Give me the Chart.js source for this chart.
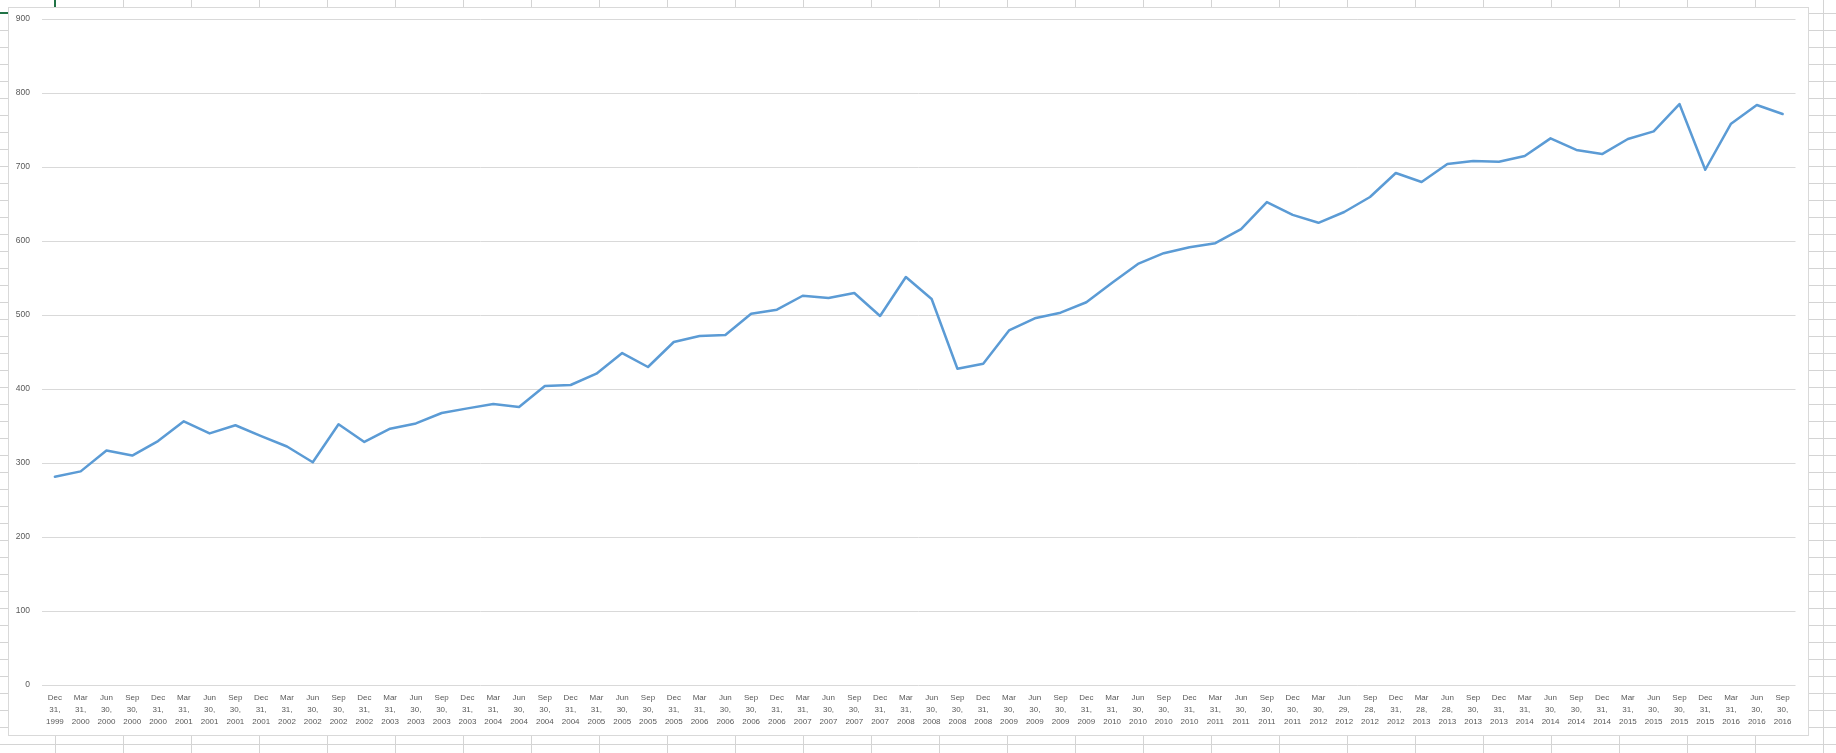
<!DOCTYPE html>
<html>
<head>
<meta charset="utf-8">
<script src="https://cdn.jsdelivr.net/npm/chart.js@4.4.1/dist/chart.umd.min.js"></script>
<style>
  html, body { margin: 0; padding: 0; }
  body {
    width: 1836px; height: 753px; overflow: hidden; position: relative;
    background-color: #ffffff;
    background-image:
      linear-gradient(to right, #d4d4d4 1px, transparent 1px),
      linear-gradient(to bottom, #d4d4d4 1px, transparent 1px);
    background-size: 68px 100%, 100% 17px;
    background-position: 55px 0, 0 13px;
  }
  #sel {
    position: absolute; left: -20px; top: -10px; width: 76px; height: 24px;
    box-sizing: border-box; border: 2px solid #217346;
  }
  #box {
    position: absolute; left: 8px; top: 7px; width: 1801px; height: 729px;
    box-sizing: border-box; border: 1px solid #d9d9d9; background: #ffffff;
  }
  #c { position: absolute; left: 0; top: 0; }
</style>
</head>
<body>
<div id="sel"></div>
<div id="box"><canvas id="c" width="1799" height="727"></canvas></div>
<script>
const tickMonths = [
  "Dec",
  "Mar","Jun","Sep","Dec", "Mar","Jun","Sep","Dec", "Mar","Jun","Sep","Dec", "Mar","Jun","Sep","Dec",
  "Mar","Jun","Sep","Dec", "Mar","Jun","Sep","Dec", "Mar","Jun","Sep","Dec", "Mar","Jun","Sep","Dec",
  "Mar","Jun","Sep","Dec", "Mar","Jun","Sep","Dec", "Mar","Jun","Sep","Dec", "Mar","Jun","Sep","Dec",
  "Mar","Jun","Sep","Dec", "Mar","Jun","Sep","Dec", "Mar","Jun","Sep","Dec", "Mar","Jun","Sep","Dec",
  "Mar","Jun","Sep"
];
const tickDays = [
  "31,",
  "31,","30,","30,","31,", "31,","30,","30,","31,", "31,","30,","30,","31,", "31,","30,","30,","31,",
  "31,","30,","30,","31,", "31,","30,","30,","31,", "31,","30,","30,","31,", "31,","30,","30,","31,",
  "31,","30,","30,","31,", "30,","30,","30,","31,", "31,","30,","30,","31,", "31,","30,","30,","30,",
  "30,","29,","28,","31,", "28,","28,","30,","31,", "31,","30,","30,","31,", "31,","30,","30,","31,",
  "31,","30,","30,"
];
const tickYears = [
  "1999",
  "2000","2000","2000","2000", "2001","2001","2001","2001", "2002","2002","2002","2002", "2003","2003","2003","2003",
  "2004","2004","2004","2004", "2005","2005","2005","2005", "2006","2006","2006","2006", "2007","2007","2007","2007",
  "2008","2008","2008","2008", "2009","2009","2009","2009", "2010","2010","2010","2010", "2011","2011","2011","2011",
  "2012","2012","2012","2012", "2013","2013","2013","2013", "2014","2014","2014","2014", "2015","2015","2015","2015",
  "2016","2016","2016"
];
const seriesValues = [
  281.5, 288.7, 316.9, 310.0, 329.6, 356.4, 340.0, 351.0, 336.4, 322.3, 301.0, 352.3, 328.4,
  346.4, 353.5, 367.6, 373.8, 379.7, 375.7, 404.0, 405.4, 420.7, 448.6, 429.7, 463.5,
  471.6, 473.0, 501.8, 507.2, 526.0, 523.0, 529.7, 498.6, 551.4, 521.6, 427.4, 434.2,
  479.2, 495.5, 503.1, 517.2, 543.7, 569.0, 583.5, 591.6, 597.0, 616.0, 652.5, 635.3,
  624.6, 639.2, 659.5, 691.9, 679.7, 704.0, 708.0, 707.2, 714.8, 738.7, 723.0, 717.5,
  737.8, 748.1, 785.1, 696.3, 758.5, 783.8, 771.6
];
const yMin = 0, yMax = 900, yStep = 100;

const labels = tickMonths.map((m, i) => [m, tickDays[i], tickYears[i]]);

new Chart(document.getElementById('c'), {
  type: 'line',
  data: {
    labels: labels,
    datasets: [{
      data: seriesValues,
      borderColor: '#5b9bd5',
      backgroundColor: '#5b9bd5',
      borderWidth: 2.5,
      pointRadius: 0,
      pointHoverRadius: 0,
      tension: 0,
      fill: false,
      borderJoinStyle: 'round',
      borderCapStyle: 'round'
    }]
  },
  options: {
    responsive: false,
    animation: false,
    devicePixelRatio: 1,
    layout: { padding: { left: 0, top: 11, right: 12.5, bottom: 0 } },
    plugins: { legend: { display: false }, tooltip: { enabled: false } },
    scales: {
      x: {
        offset: true,
        grid: { display: false, drawTicks: false },
        border: { display: false },
        ticks: {
          autoSkip: false, maxRotation: 0, minRotation: 0, padding: 7,
          color: '#595959',
          font: { family: '"Liberation Sans", Arial, sans-serif', size: 8, lineHeight: 1.5 }
        },
        afterFit: (s) => { s.height = 50; }
      },
      y: {
        min: yMin, max: yMax,
        grid: { color: '#d9d9d9', lineWidth: 1, drawTicks: true, tickLength: 12, tickColor: 'rgba(0,0,0,0)' },
        border: { display: false },
        ticks: {
          stepSize: yStep, padding: 0,
          color: '#595959',
          font: { family: '"Liberation Sans", Arial, sans-serif', size: 8.5 }
        },
        afterFit: (s) => { s.width = 33; }
      }
    }
  }
});
</script>
</body>
</html>
